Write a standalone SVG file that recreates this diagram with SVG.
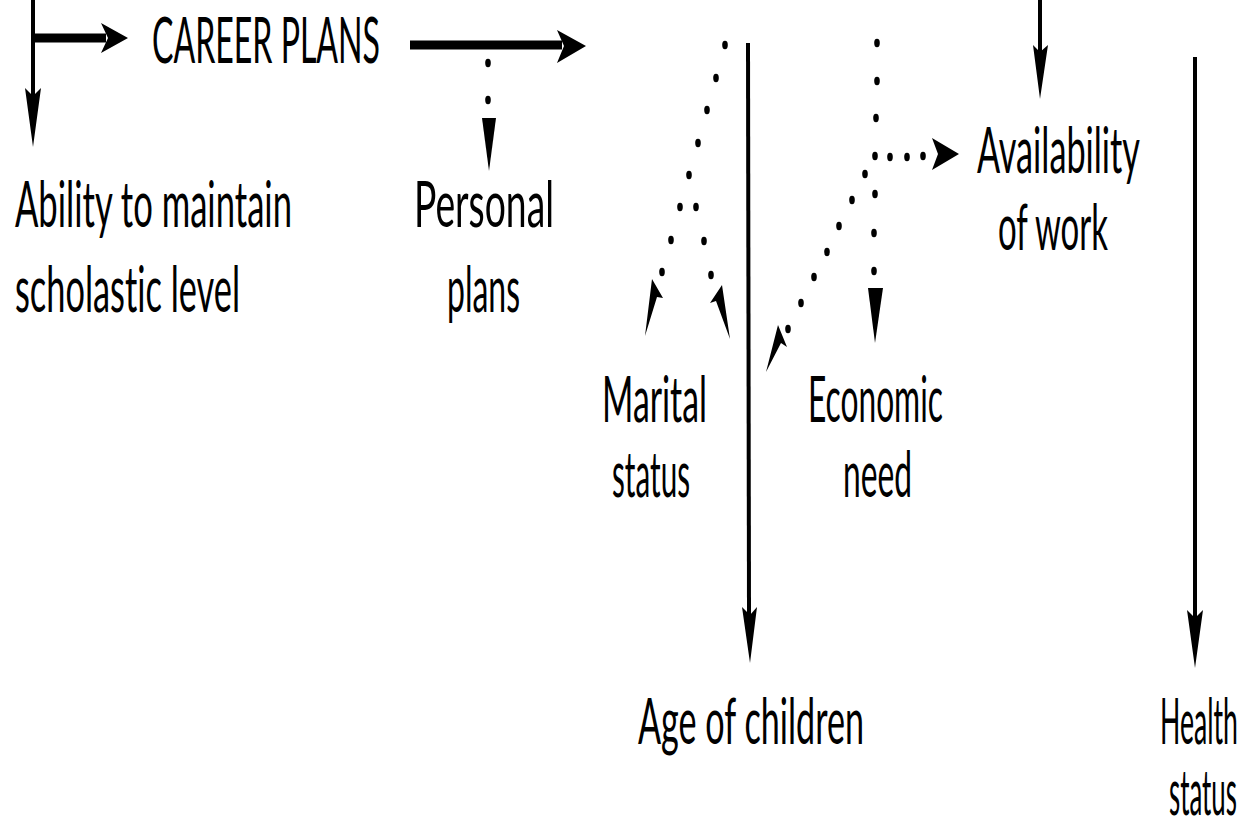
<svg xmlns="http://www.w3.org/2000/svg" width="1251" height="827" viewBox="0 0 1251 827">
  <defs>
    <style>
      .lbl { font-family: Lato, "Liberation Sans", Arial, sans-serif; font-weight: 400; font-size: 64px; fill: #000; font-variant-ligatures: none; }
      .solid { stroke: #000; stroke-width: 4; fill: none; }
      .thick { stroke: #000; stroke-width: 9; fill: none; }
      .head { fill: #000; }
      .dot { fill: #000; }
    </style>
    <ellipse id="d" cx="0" cy="0" rx="2.8" ry="4.2"/>
  </defs>
  <rect width="1251" height="827" fill="#fff"/>

  <!-- connectors -->
  <g id="connectors">
    <!-- left bracket: down to scholastic ability, right to career plans -->
    <line class="solid" x1="33" y1="0" x2="33" y2="100"/>
    <polygon class="head" points="25,88 33,96 41,88 33,147"/>
    <line class="thick" x1="33" y1="38" x2="106" y2="38"/>
    <polygon class="head" points="101,23 108,38 101,53 128,38"/>

    <!-- career plans onward -->
    <line class="thick" x1="410" y1="45" x2="562" y2="45"/>
    <polygon class="head" points="557,30 564,46 557,63 586,46"/>

    <!-- dotted: career plans to personal plans -->
    <g class="dot">
      <use href="#d" x="488" y="63"/>
      <use href="#d" x="488" y="100"/>
    </g>
    <polygon class="head" points="482,118 496,118 489,171"/>

    <!-- dotted fork to marital status -->
    <g class="dot">
      <use href="#d" x="725" y="45"/>
      <use href="#d" x="716" y="78"/>
      <use href="#d" x="707" y="110"/>
      <use href="#d" x="698" y="143"/>
      <use href="#d" x="689" y="175"/>
      <use href="#d" x="680" y="207"/>
      <use href="#d" x="671" y="240"/>
      <use href="#d" x="662" y="272"/>
      <use href="#d" x="696" y="207"/>
      <use href="#d" x="704" y="241"/>
      <use href="#d" x="711" y="275"/>
    </g>
    <polygon class="head" points="652,279 663,298 657,297 645,336"/>
    <polygon class="head" points="722,285 710,303 716,301 730,339"/>

    <!-- solid line to age of children -->
    <line class="solid" x1="748" y1="43" x2="749" y2="615"/>
    <polygon class="head" points="742,607 750,615 757,607 750,663"/>

    <!-- dotted: economic need / availability of work -->
    <g class="dot">
      <use href="#d" x="877" y="43"/>
      <use href="#d" x="877" y="81"/>
      <use href="#d" x="876" y="118"/>
      <use href="#d" x="875" y="156"/>
      <use href="#d" x="875" y="194"/>
      <use href="#d" x="874" y="233"/>
      <use href="#d" x="874" y="271"/>
      <use href="#d" x="890" y="157"/>
      <use href="#d" x="907" y="157"/>
      <use href="#d" x="923" y="156"/>
      <use href="#d" x="865" y="174"/>
      <use href="#d" x="852" y="200"/>
      <use href="#d" x="839" y="226"/>
      <use href="#d" x="827" y="252"/>
      <use href="#d" x="814" y="277"/>
      <use href="#d" x="801" y="303"/>
      <use href="#d" x="788" y="329"/>
    </g>
    <polygon class="head" points="868,288 883,288 875,343"/>
    <polygon class="head" points="932,138 938,154 932,170 959,154"/>
    <polygon class="head" points="778,325 787,347 781,343 766,372"/>

    <!-- solid arrow into availability of work -->
    <line class="solid" x1="1040" y1="0" x2="1040" y2="55"/>
    <polygon class="head" points="1033,45 1040,52 1048,45 1040,99"/>

    <!-- solid line to health status -->
    <line class="solid" x1="1195" y1="57" x2="1195" y2="618"/>
    <polygon class="head" points="1187,610 1195,618 1203,610 1195,668"/>
  </g>

  <!-- nodes: labels are set in a condensed face by narrowing the x axis -->
  <g id="career-plans">
    <text class="lbl" transform="translate(152,63) scale(0.5,1)" textLength="456" lengthAdjust="spacingAndGlyphs">CAREER PLANS</text>
  </g>
  <g id="scholastic-ability">
    <text class="lbl" transform="translate(15,227) scale(0.5,1)" textLength="554" lengthAdjust="spacingAndGlyphs">Ability to maintain</text>
    <text class="lbl" transform="translate(15,312) scale(0.5,1)" textLength="450" lengthAdjust="spacingAndGlyphs">scholastic level</text>
  </g>
  <g id="personal-plans">
    <text class="lbl" transform="translate(414,227) scale(0.5,1)" textLength="280" lengthAdjust="spacingAndGlyphs">Personal</text>
    <text class="lbl" transform="translate(447,312) scale(0.5,1)" textLength="146" lengthAdjust="spacingAndGlyphs">plans</text>
  </g>
  <g id="marital-status">
    <text class="lbl" transform="translate(602,422) scale(0.5,1)" textLength="210" lengthAdjust="spacingAndGlyphs">Marital</text>
    <text class="lbl" transform="translate(612,497) scale(0.5,1)" textLength="156" lengthAdjust="spacingAndGlyphs">status</text>
  </g>
  <g id="economic-need">
    <text class="lbl" transform="translate(808,422) scale(0.5,1)" textLength="270" lengthAdjust="spacingAndGlyphs">Economic</text>
    <text class="lbl" transform="translate(843,497) scale(0.5,1)" textLength="138" lengthAdjust="spacingAndGlyphs">need</text>
  </g>
  <g id="availability-of-work">
    <text class="lbl" transform="translate(977,173) scale(0.5,1)" textLength="326" lengthAdjust="spacingAndGlyphs">Availability</text>
    <text class="lbl" transform="translate(998,250) scale(0.5,1)" textLength="220" lengthAdjust="spacingAndGlyphs">of work</text>
  </g>
  <g id="age-of-children">
    <text class="lbl" transform="translate(638,744) scale(0.5,1)" textLength="452" lengthAdjust="spacingAndGlyphs">Age of children</text>
  </g>
  <g id="health-status">
    <text class="lbl" transform="translate(1160,744) scale(0.4,1)" textLength="195" lengthAdjust="spacingAndGlyphs">Health</text>
    <text class="lbl" transform="translate(1169,815) scale(0.45,1)" textLength="151" lengthAdjust="spacingAndGlyphs">status</text>
  </g>
</svg>
